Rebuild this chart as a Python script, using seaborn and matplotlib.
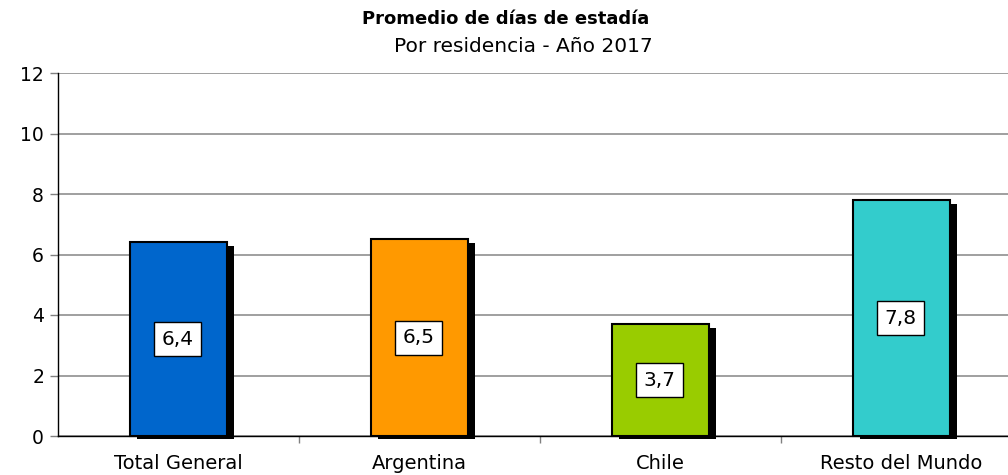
import matplotlib
matplotlib.use("Agg")
import matplotlib.pyplot as plt
import matplotlib.patheffects as pe
import seaborn as sns
import pandas as pd

categories = ["Total General", "Argentina", "Chile", "Resto del Mundo"]
values = [6.4, 6.5, 3.7, 7.8]
labels = ["6,4", "6,5", "3,7", "7,8"]
colors = ["#0066CC", "#FF9900", "#99CC00", "#33CCCC"]
yticks = [0, 2, 4, 6, 8, 10, 12]
title = "Promedio de días de estadía"
subtitle = "Por residencia - Año 2017"

sns.set_theme(style="white")
plt.rcParams["font.family"] = ["DejaVu Sans"]
plt.rcParams["text.color"] = "black"
plt.rcParams["xtick.color"] = "black"
plt.rcParams["ytick.color"] = "black"

df = pd.DataFrame({"cat": categories, "val": values})

fig = plt.figure(figsize=(10.08, 4.75), dpi=100)
ax = fig.add_axes([58 / 1008, 39 / 475, 964 / 1008, 363 / 475])

sns.barplot(data=df, x="cat", y="val", hue="cat", palette=colors, width=0.40,
            edgecolor="black", linewidth=1.5, legend=False, ax=ax, saturation=1)

for p in ax.patches:
    p.set_path_effects([pe.SimplePatchShadow(offset=(5, -2.5), shadow_rgbFace="black", alpha=1.0),
                        pe.Normal()])
    p.set_clip_on(False)
    p.set_zorder(3)

for i, (v, lab) in enumerate(zip(values, labels)):
    ax.text(i - 0.005, v / 2, lab, ha="center", va="center", fontsize=14.5, zorder=5, color="black",
            bbox=dict(boxstyle="square,pad=0.38", facecolor="white", edgecolor="black", linewidth=1))

ax.set_xlim(-0.5, 3.5)
ax.set_ylim(0, 12)
ax.set_yticks(yticks)
ax.set_yticklabels([str(t) for t in yticks], fontsize=13.5, color="black")
ax.yaxis.grid(True, color="#8f8f8f", linewidth=1.2)
ax.set_axisbelow(True)

ax.set_xticks(range(len(categories)))
ax.set_xticklabels(categories, fontsize=14, color="black")
ax.tick_params(axis="x", which="major", length=0, pad=13)
ax.set_xticks([0.5, 1.5, 2.5, 3.5], minor=True)
ax.tick_params(axis="x", which="minor", length=5, color="#808080", width=1, bottom=True)
ax.tick_params(axis="y", length=6, color="#808080", width=1, left=True, pad=4)

ax.set_xlabel("")
ax.set_ylabel("")
for s in ["top", "right"]:
    ax.spines[s].set_visible(False)
ax.spines["left"].set_color("black")
ax.spines["bottom"].set_color("black")
ax.spines["left"].set_linewidth(1)
ax.spines["bottom"].set_linewidth(1)

fig.text(0.502, 0.960, title, ha="center", va="center", fontsize=13, fontweight="bold")
fig.text(0.519, 0.903, subtitle, ha="center", va="center", fontsize=14.5)

fig.savefig("out.png", dpi=100)
